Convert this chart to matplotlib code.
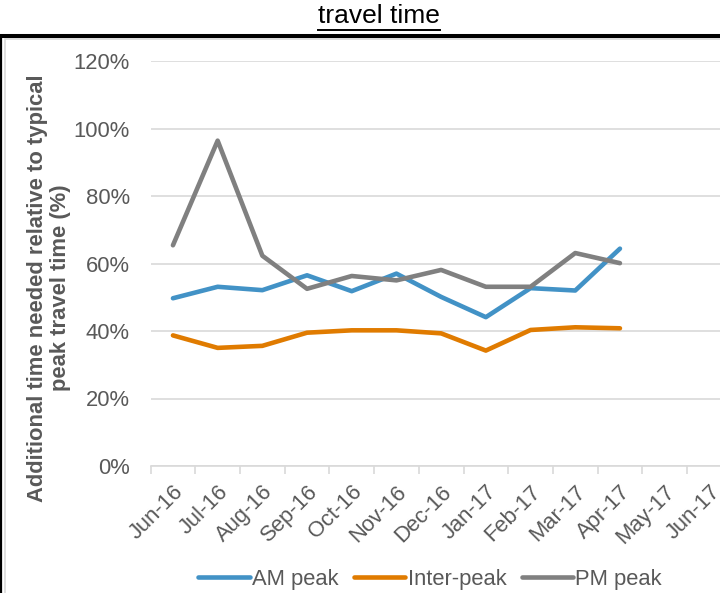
import matplotlib
matplotlib.use("Agg")
import matplotlib.pyplot as plt
from matplotlib.lines import Line2D
from matplotlib.patches import Rectangle
import numpy as np

plt.rcParams['font.family'] = ['Liberation Sans', 'DejaVu Sans']

# monthly categories on the x axis
months = ['Jun-16', 'Jul-16', 'Aug-16', 'Sep-16', 'Oct-16', 'Nov-16', 'Dec-16',
          'Jan-17', 'Feb-17', 'Mar-17', 'Apr-17', 'May-17', 'Jun-17']

# additional time needed (%), Jun-16 to Apr-17
am_peak = [49.7, 53.1, 52.1, 56.5, 51.8, 57.0, 50.1, 44.1, 52.7, 52.0, 64.4]
inter_peak = [38.7, 35.0, 35.6, 39.5, 40.2, 40.2, 39.3, 34.2, 40.3, 41.1, 40.8]
pm_peak = [65.4, 96.4, 62.3, 52.5, 56.3, 55.0, 58.1, 53.1, 53.1, 63.1, 60.1]

series = [('AM peak', am_peak, '#4292c6'),
          ('Inter-peak', inter_peak, '#e07b00'),
          ('PM peak', pm_peak, '#808080')]

W, H = 720, 593
fig = plt.figure(figsize=(W / 100, H / 100), dpi=100)
txt = '#595959'
grid = '#d9d9d9'
fs = 15.8

# frame lines around the chart
fig.add_artist(Line2D([0, 1], [1 - 36 / H, 1 - 36 / H], color='black', lw=2.9,
                      transform=fig.transFigure))
fig.add_artist(Line2D([1 / W, 1 / W], [0, 1 - 36 / H], color='black', lw=1.6,
                      transform=fig.transFigure))
fig.add_artist(Rectangle((5 / W, -0.1), 1.2, 1 - 39.5 / H + 0.1, fill=False,
                         edgecolor=grid, lw=1.2, transform=fig.transFigure))

# title with underline
title = fig.text(379 / W, 1 - 16 / H, 'travel time', ha='center', va='center',
                 fontsize=19, color='black',
                 family=['Liberation Sans Narrow', 'Liberation Sans'])
fig.canvas.draw()
bb = title.get_window_extent()
fig.add_artist(Line2D([bb.x0 / W, bb.x1 / W], [1 - 29.5 / H, 1 - 29.5 / H],
                      color='black', lw=1.4, transform=fig.transFigure))

left, right = 150.6, 731.7
bottom, top = 466, 61
ax = fig.add_axes([left / W, (H - bottom) / H, (right - left) / W, (bottom - top) / H])

x = np.arange(len(am_peak))
for name, vals, col in series:
    ax.plot(x, np.array(vals) / 100, color=col, lw=3.3, solid_capstyle='round',
            solid_joinstyle='round', label=name)

ax.set_xlim(-0.5, len(months) - 0.5)
ax.set_ylim(0, 1.2)
ax.set_yticks(np.arange(0, 1.21, 0.2))
ax.set_yticklabels([f'{int(round(v * 100))}%' for v in np.arange(0, 1.21, 0.2)])
ax.yaxis.grid(True, color=grid, lw=1.2)
ax.set_axisbelow(True)

ax.set_xticks(np.arange(len(months)))
ax.set_xticklabels(months, rotation=45, ha='right', va='top',
                   rotation_mode='anchor')
ax.set_xticks(np.arange(len(months) + 1) - 0.5, minor=True)
ax.tick_params(axis='x', which='major', length=0, pad=11, labelsize=fs,
               labelcolor=txt)
ax.tick_params(axis='x', which='minor', length=6, color=grid, width=1.2)
ax.tick_params(axis='y', length=0, pad=15, labelsize=fs, labelcolor=txt)

for s in ['top', 'right', 'left']:
    ax.spines[s].set_visible(False)
ax.spines['bottom'].set_color(grid)
ax.spines['bottom'].set_linewidth(1.2)

fig.text(49 / W, 1 - 288 / H,
         'Additional time needed relative to typical\npeak travel time (%)',
         rotation=90, ha='center', va='center', fontsize=fs,
         fontweight='bold', color=txt, linespacing=1.12)

handles = [Line2D([], [], color=c, lw=3.3, solid_capstyle='round') for _, _, c in series]
fig.legend(handles, [n for n, _, _ in series], loc='center',
           bbox_to_anchor=(430 / W, 1 - 579 / H), ncol=3, frameon=False,
           fontsize=fs, labelcolor=txt, handlelength=2.35, handletextpad=0.1,
           columnspacing=0.7)

fig.savefig('out.png', dpi=100)
